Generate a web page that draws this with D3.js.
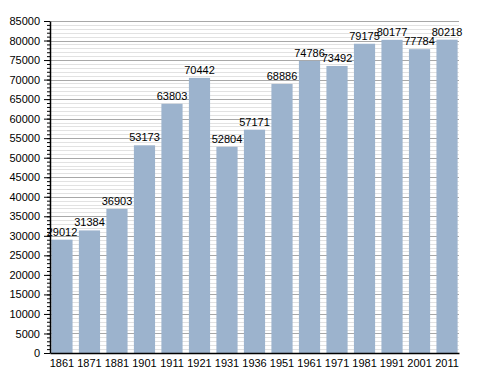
<!DOCTYPE html>
<html>
<head>
<meta charset="utf-8">
<script src="https://cdn.jsdelivr.net/npm/d3@7"></script>
<style>
  body { margin: 0; background: #fff; }
  text { font-family: "Liberation Sans", Arial, sans-serif; font-size: 11px; fill: #000; }
</style>
</head>
<body>
<div id="chart"></div>
<script>
var years = ["1861","1871","1881","1901","1911","1921","1931","1936","1951","1961","1971","1981","1991","2001","2011"];
var population = [29012,31384,36903,53173,63803,70442,52804,57171,68886,74786,73492,79175,80177,77784,80218];
var yMax = 85000;

var width = 488, height = 373;
var plotLeft = 50, plotRight = 459, plotTop = 21, plotBottom = 353;

var svg = d3.select("#chart").append("svg")
    .attr("width", width)
    .attr("height", height);

var x = d3.scaleBand()
    .domain(years)
    .range([plotLeft, plotRight])
    .paddingInner(0.23)
    .paddingOuter(0.05);

var y = d3.scaleLinear()
    .domain([0, yMax])
    .range([plotBottom, plotTop]);

// grid lines: minor every 1000, major every 5000
var minor = d3.range(1000, yMax + 1, 1000);
svg.append("g").selectAll("line")
    .data(minor)
    .enter().append("line")
    .attr("x1", plotLeft)
    .attr("x2", plotRight)
    .attr("y1", function(d) { return Math.round(y(d)) + 0.5; })
    .attr("y2", function(d) { return Math.round(y(d)) + 0.5; })
    .attr("stroke", function(d) { return d % 5000 == 0 ? "#a8a8a8" : "#e2e2e2"; })
    .attr("stroke-width", 1);

// bars
svg.append("g").selectAll("rect")
    .data(population)
    .enter().append("rect")
    .attr("x", function(d, i) { return x(years[i]); })
    .attr("width", x.bandwidth())
    .attr("y", function(d) { return y(d); })
    .attr("height", function(d) { return plotBottom - y(d); })
    .attr("fill", "#9cb3cd");

// value labels
svg.append("g").selectAll("text")
    .data(population)
    .enter().append("text")
    .attr("x", function(d, i) { return x(years[i]) + x.bandwidth() / 2; })
    .attr("y", function(d) { return y(d) - 4; })
    .attr("text-anchor", "middle")
    .text(function(d) { return d; });

// y axis with minor ticks
var yAxisMinor = d3.axisLeft(y)
    .tickValues(d3.range(0, yMax + 1, 1000))
    .tickSize(3)
    .tickFormat("");
svg.append("g")
    .attr("transform", "translate(" + plotLeft + ",0)")
    .call(yAxisMinor)
    .call(function(g) { g.select(".domain").remove(); })
    .selectAll("line").attr("stroke", "#000");

var yAxis = d3.axisLeft(y)
    .tickValues(d3.range(0, yMax + 1, 5000))
    .tickFormat(d3.format("d"))
    .tickSize(6)
    .tickPadding(4)
    .tickSizeOuter(0);
var ga = svg.append("g")
    .attr("transform", "translate(" + plotLeft + ",0)")
    .call(yAxis);
ga.selectAll("text").style("font-size", "11px").style("font-family", "Liberation Sans, Arial, sans-serif");
ga.select(".domain").attr("stroke", "#000").attr("stroke-width", 1.5);

// x axis
var xAxis = d3.axisBottom(x).tickSize(0).tickPadding(6);
var gx = svg.append("g")
    .attr("transform", "translate(0," + plotBottom + ")")
    .call(xAxis);
gx.select(".domain").attr("stroke", "#000").attr("stroke-width", 1.5);
gx.selectAll("text").style("font-size", "11px").style("font-family", "Liberation Sans, Arial, sans-serif");
</script>
</body>
</html>
